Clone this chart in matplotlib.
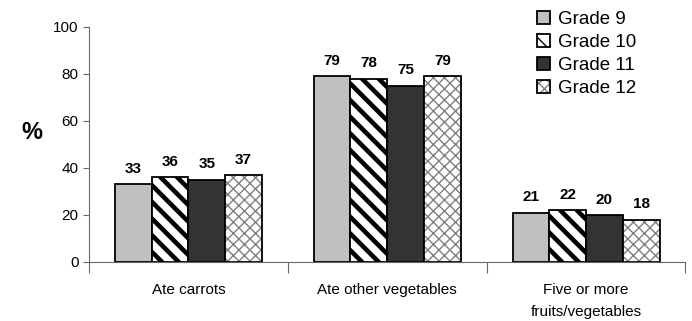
import matplotlib.pyplot as plt
import matplotlib.colors as mcolors
import numpy as np

plt.rcParams['font.family'] = ['Liberation Sans', 'DejaVu Sans']

categories = ['Ate carrots', 'Ate other vegetables', 'Five or more\nfruits/vegetables']
grades = ['Grade 9', 'Grade 10', 'Grade 11', 'Grade 12']
grade9 = [33, 79, 21]
grade10 = [36, 78, 22]
grade11 = [35, 75, 20]
grade12 = [37, 79, 18]

series = [grade9, grade10, grade11, grade12]
colors = ['#c0c0c0', 'white', '#333333', 'white']
hatches = [None, '\\\\', None, 'xxx']
hatch_colors = ['black', 'black', 'black', '#808080']
hatch_widths = [1.0, 3.3, 1.0, 1.0]

fig = plt.figure(figsize=(6.92, 3.21), dpi=100)
ax = fig.add_axes([0.1286, 0.184, 0.862, 0.732])

x = np.arange(len(categories))
width = 0.185
for i, vals in enumerate(series):
    pos = x + (i - 1.5) * width
    with plt.rc_context({'hatch.linewidth': hatch_widths[i]}):
        bars = ax.bar(pos, vals, width, color=colors[i], edgecolor='black',
                      linewidth=1.3, hatch=hatches[i], label=grades[i])
    if hatches[i]:
        for b in bars:
            b._hatch_color = mcolors.to_rgba(hatch_colors[i])
    for p, v in zip(pos, vals):
        ax.text(p, v + 3.5, str(v), ha='center', va='bottom',
                fontsize=11, fontweight='bold')

ax.set_xlim(-0.5, 2.5)
ax.set_ylim(0, 100)
ax.set_yticks(range(0, 101, 20))
ax.tick_params(axis='y', labelsize=11, length=4, color='#666666')
ax.set_xticks([-0.5, 0.5, 1.5, 2.5])
ax.set_xticklabels([])
ax.set_xticks(x, minor=True)
ax.set_xticklabels(categories, minor=True, fontsize=11, linespacing=1.75)
ax.tick_params(axis='x', which='major', length=8, color='#666666')
ax.tick_params(axis='x', which='minor', length=0, pad=15)
for s in ['top', 'right']:
    ax.spines[s].set_visible(False)
ax.spines['left'].set_color('#666666')
ax.spines['bottom'].set_color('#666666')

ax.set_ylabel('%', rotation=0, fontsize=17, fontweight='bold')
ax.yaxis.set_label_coords(-0.095, 0.5)

fig.legend(loc='upper left', bbox_to_anchor=(0.76, 1.0), frameon=False,
           fontsize=13.5, handlelength=0.7, handleheight=0.7,
           handletextpad=0.4, labelspacing=0.3, borderaxespad=0.2)

fig.savefig('out.png', dpi=100)
